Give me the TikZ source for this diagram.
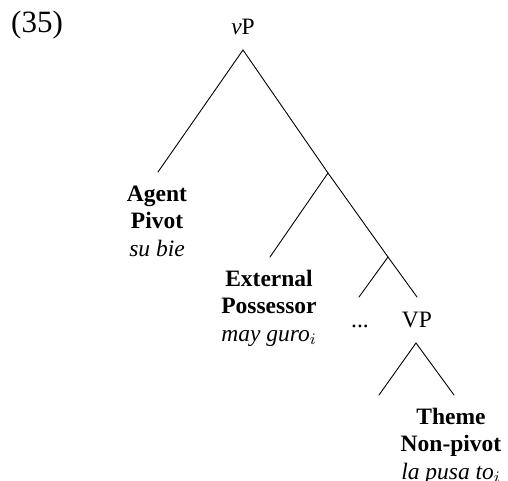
\documentclass[tikz,border=0pt]{standalone}
\usepackage{fontspec}
\setmainfont{Liberation Serif}
\begin{document}
\begin{tikzpicture}[x=0.5pt,y=-0.5pt,
  lbl/.style={align=center,anchor=base,inner sep=0pt,font=\fontsize{11.75}{13.75}\selectfont},
  branch/.style={line width=0.45pt,line cap=round}]
\useasboundingbox (0,0) rectangle (508,481);
% labels (anchor = baseline of last line)
\node[anchor=base,inner sep=0pt,font=\fontsize{15.5}{18}\selectfont] (ex) at (37,33) {(35)};
\node[lbl] (vP) at (243,35) {\textit{v}P};
\node[lbl] (agent) at (157,256) {\textbf{Agent}\\\textbf{Pivot}\\\textit{su bie}};
\node[lbl] (ext) at (269,341) {\textbf{External}\\\textbf{Possessor}\\\textit{may guro}$_i$};
\node[lbl] (dots) at (360,327) {...};
\node[lbl] (VP) at (417,327) {VP};
\node[lbl] (theme) at (451,479) {\textbf{Theme}\\\textbf{Non-pivot}\\\textit{la pusa to}$_i$};
% junctions and branch ends
\coordinate (apex) at (243,50);
\coordinate (agentEnd) at (158,172);
\coordinate (b1) at (328,173);
\coordinate (extEnd) at (270,257);
\coordinate (b2) at (388,257);
\coordinate (dotsEnd) at (359,297);
\coordinate (vpEnd) at (417,297);
\coordinate (vpTop) at (416,343);
\coordinate (themeL) at (379,395);
\coordinate (themeR) at (454,395);
% branches
\draw[branch] (agentEnd) -- (apex) -- (b1) -- (b2) -- (vpEnd);
\draw[branch] (b1) -- (extEnd);
\draw[branch] (b2) -- (dotsEnd);
\draw[branch] (themeL) -- (vpTop) -- (themeR);
\end{tikzpicture}
\end{document}
